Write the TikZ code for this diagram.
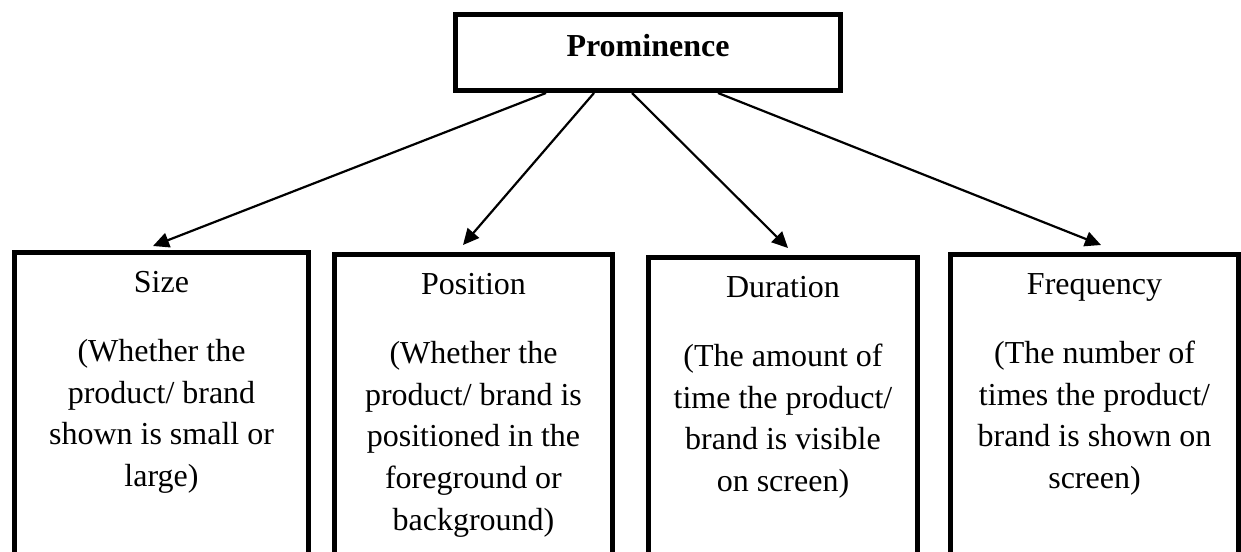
\documentclass[tikz,border=0pt]{standalone}
\usepackage{fontspec}
\setmainfont{Liberation Serif}
\usetikzlibrary{arrows.meta}

\newcommand{\factortext}[2]{\parbox[t][170pt][t]{120pt}{\centering\strut #1\par\vspace{13.3pt}#2}}

\begin{document}
\begin{tikzpicture}[x=0.5pt,y=-0.5pt,
    >={Triangle[length=8pt,width=7.5pt]},
    every node/.style={font=\fontsize{16}{20.9}\selectfont},
    topbox/.style={draw,line width=2.5pt,minimum width=192.5pt,minimum height=38pt,
      inner sep=0pt,font=\fontsize{16}{20.9}\selectfont\bfseries,
      text height=10pt,text depth=5.8pt},
    factor/.style={draw,line width=2.5pt,anchor=north,inner sep=5.6pt},
    link/.style={->,line width=1.1pt}]
    \useasboundingbox (0,0) rectangle (1241,551);
    \clip (0,0) rectangle (1241,551);
    \node[topbox] (prom) at (648,52.5) {Prominence};
    % the four measures
    \node[factor,minimum width=147pt] (size) at (161.5,250)
      {\factortext{Size}{(Whether the\\ product/ brand\\ shown is small or\\ large)}};
    \node[factor,minimum width=139pt] (pos) at (473.5,252)
      {\factortext{Position}{(Whether the\\ product/ brand is\\ positioned in the\\ foreground or\\ background)}};
    \node[factor,minimum width=134.5pt] (dur) at (783,255)
      {\factortext{Duration}{(The amount of\\ time the product/\\ brand is visible\\ on screen)}};
    \node[factor,minimum width=144pt] (freq) at (1094.5,252)
      {\factortext{Frequency}{(The number of\\ times the product/\\ brand is shown on\\ screen)}};
    \draw[link] ([xshift=-51pt]prom.south) -- ([xshift=-4.25pt,yshift=2pt]size.north);
    \draw[link] ([xshift=-27pt]prom.south) -- ([xshift=-5.25pt,yshift=3.5pt]pos.north);
    \draw[link] ([xshift=-8pt]prom.south) -- ([xshift=2.5pt,yshift=3.5pt]dur.north);
    \draw[link] ([xshift=35pt]prom.south) -- ([xshift=3.25pt,yshift=3.5pt]freq.north);
\end{tikzpicture}
\end{document}
